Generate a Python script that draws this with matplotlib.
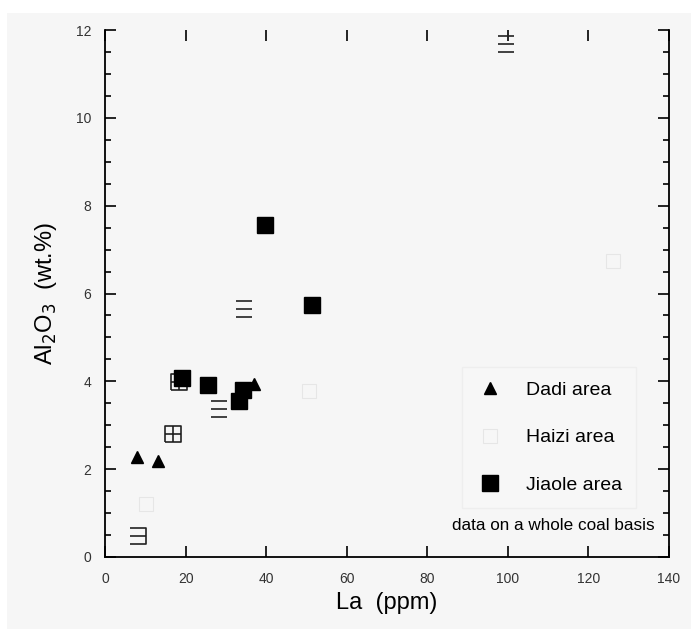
import matplotlib
matplotlib.use("Agg")
import matplotlib.pyplot as plt
from matplotlib.path import Path
from matplotlib.patches import Rectangle
from matplotlib.lines import Line2D
import numpy as np

plt.rcParams['font.family'] = ['Liberation Sans', 'DejaVu Sans']

# Data (La ppm, Al2O3 wt.%)
dadi_la = [7.9, 13.2, 37.0]
dadi_al = [2.28, 2.19, 3.94]

jiaole_la = [19.1, 25.6, 33.3, 34.3, 39.7, 51.4]
jiaole_al = [4.08, 3.92, 3.55, 3.80, 7.55, 5.74]

haizi_faint_la = [10.2, 50.6, 126.0]
haizi_faint_al = [1.20, 3.78, 6.75]

haizi_box_la = [16.9, 18.4]
haizi_box_al = [2.80, 3.98]
haizi_line_la = [28.3, 34.5, 99.5]
haizi_line_al = [3.38, 5.64, 11.68]
haizi_e_la = [8.3]
haizi_e_al = [0.47]

x_ticks = [0, 20, 40, 60, 80, 100, 120, 140]
y_ticks = [0, 2, 4, 6, 8, 10, 12]

# custom markers
box_cross = Path([(-1, -1), (1, -1), (1, 1), (-1, 1), (-1, -1),
                  (0, -1), (0, 1), (-1, 0), (1, 0)],
                 [Path.MOVETO, Path.LINETO, Path.LINETO, Path.LINETO, Path.LINETO,
                  Path.MOVETO, Path.LINETO, Path.MOVETO, Path.LINETO])
three_lines = Path([(-1, 1), (1, 1), (-1, 0), (1, 0), (-1, -1), (1, -1)],
                   [Path.MOVETO, Path.LINETO, Path.MOVETO, Path.LINETO, Path.MOVETO, Path.LINETO])
e_mark = Path([(-1, 1), (1, 1), (1, -1), (-1, -1), (-1, 0), (1, 0)],
              [Path.MOVETO, Path.LINETO, Path.LINETO, Path.LINETO, Path.MOVETO, Path.LINETO])

fig = plt.figure(figsize=(6.91, 6.29), dpi=100, facecolor='white')
fig.patches.append(Rectangle((7 / 691, 0), 1, 1 - 13 / 629, transform=fig.transFigure,
                             facecolor='#f6f6f6', edgecolor='none', zorder=-10))
ax = fig.add_axes([105 / 691, 1 - 557 / 629, 564 / 691, 527 / 629])
ax.set_facecolor('none')

ax.plot(haizi_faint_la, haizi_faint_al, linestyle='none', marker='s', markersize=10,
        markerfacecolor='none', markeredgecolor='#e6e6e6', markeredgewidth=0.8, zorder=2)
ax.plot(haizi_box_la, haizi_box_al, linestyle='none', marker=box_cross, markersize=12,
        markerfacecolor='none', markeredgecolor='#222222', markeredgewidth=1.2, zorder=3)
ax.plot(haizi_line_la, haizi_line_al, linestyle='none', marker=three_lines, markersize=11,
        markerfacecolor='none', markeredgecolor='#222222', markeredgewidth=1.2, zorder=3)
ax.plot(haizi_e_la, haizi_e_al, linestyle='none', marker=e_mark, markersize=12,
        markerfacecolor='none', markeredgecolor='#222222', markeredgewidth=1.2, zorder=3)
ax.plot(dadi_la, dadi_al, linestyle='none', marker='^', markersize=9, color='black', zorder=4)
ax.plot(jiaole_la, jiaole_al, linestyle='none', marker='s', markersize=11, color='black', zorder=4)

ax.set_xlim(0, 140)
ax.set_ylim(0, 12)
ax.set_xticks(x_ticks)
ax.set_yticks(y_ticks)
ax.set_yticks(np.arange(0, 12.01, 0.5), minor=True)
ax.tick_params(axis='both', which='major', direction='in', length=8, width=1.2,
               labelsize=10, colors='black', top=True, right=True)
ax.tick_params(axis='y', which='minor', direction='in', length=4, width=1.2, right=True)
ax.tick_params(axis='x', pad=11)
ax.tick_params(axis='y', pad=10)
for lbl in ax.get_xticklabels() + ax.get_yticklabels():
    lbl.set_color('#333333')
ax.spines['top'].set_visible(False)
for s in ['left', 'bottom', 'right']:
    ax.spines[s].set_linewidth(1.3)

ax.set_xlabel('La  (ppm)', fontsize=17, labelpad=4)
ax.set_ylabel('Al$_2$O$_3$  (wt.%)', fontsize=17, labelpad=12)

handles = [
    Line2D([], [], linestyle='none', marker='^', markersize=9, color='black'),
    Line2D([], [], linestyle='none', marker='s', markersize=10, markerfacecolor='none',
           markeredgecolor='#e6e6e6', markeredgewidth=0.8),
    Line2D([], [], linestyle='none', marker='s', markersize=11, color='black'),
]
leg = ax.legend(handles, ['Dadi area', 'Haizi area', 'Jiaole area'],
                loc='lower right', bbox_to_anchor=(0.958, 0.075), fontsize=14,
                frameon=True, fancybox=False, edgecolor='#eeeeee', facecolor='#f7f7f7',
                framealpha=1, labelspacing=1.55, handletextpad=1.1, borderpad=0.7,
                handlelength=1.5)
ax.text(0.975, 0.06, 'data on a whole coal basis', transform=ax.transAxes,
        ha='right', va='center', fontsize=12.3)

fig.savefig('out.png', dpi=100)
